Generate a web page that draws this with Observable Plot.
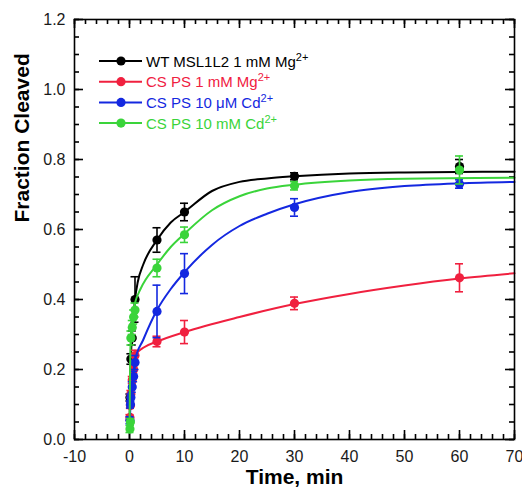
<!DOCTYPE html>
<html>
<head>
<meta charset="utf-8">
<script src="https://cdn.jsdelivr.net/npm/d3@7"></script>
<script src="https://cdn.jsdelivr.net/npm/@observablehq/plot@0.6"></script>
<style>
  html, body { margin: 0; padding: 0; background: white; }
</style>
</head>
<body>
<div id="chart"></div>
<script>
// ---- Data ----
const seriesNames = ["WT MSL1L2 1 mM Mg", "CS PS 1 mM Mg", "CS PS 10 \u03bcM Cd", "CS PS 10 mM Cd"];
const seriesSup = ["2+", "2+", "2+", "2+"];
const seriesColors = ["#000000", "#f0203f", "#1428e0", "#3ad43a"];

// measured points: time (min), fraction cleaved, error
const wtTime = [0.083, 0.25, 0.5, 1, 5, 10, 30, 60];
const wtFrac = [0.12, 0.23, 0.29, 0.40, 0.57, 0.65, 0.752, 0.78];
const wtErr  = [0.01, 0.015, 0.02, 0.065, 0.035, 0.025, 0.01, 0.02];

const csMgTime = [0.083, 0.167, 0.25, 0.5, 0.75, 1, 5, 10, 30, 60];
const csMgFrac = [0.063, 0.097, 0.13, 0.17, 0.20, 0.24, 0.28, 0.307, 0.389, 0.462];
const csMgErr  = [0.008, 0.008, 0.01, 0.01, 0.01, 0.015, 0.015, 0.033, 0.018, 0.04];

const cdLowTime = [0.083, 0.167, 0.25, 0.5, 0.75, 1, 5, 10, 30, 60];
const cdLowFrac = [0.055, 0.10, 0.12, 0.15, 0.18, 0.22, 0.366, 0.474, 0.663, 0.73];
const cdLowErr  = [0.01, 0.01, 0.01, 0.015, 0.015, 0.02, 0.075, 0.057, 0.025, 0.012];

const cdHighTime = [0.083, 0.167, 0.25, 0.5, 0.75, 1, 5, 10, 30, 60];
const cdHighFrac = [0.03, 0.05, 0.29, 0.32, 0.35, 0.37, 0.49, 0.585, 0.725, 0.77];
const cdHighErr  = [0.01, 0.01, 0.02, 0.02, 0.02, 0.02, 0.025, 0.022, 0.012, 0.04];

// fitted curves
const wtCurveT = [0, 0.1, 0.25, 0.5, 1, 1.5, 2.5, 5, 7.5, 10, 15, 20, 25, 30, 40, 50, 70];
const wtCurveY = [0.02, 0.14, 0.23, 0.31, 0.40, 0.45, 0.50, 0.57, 0.62, 0.65, 0.71, 0.736, 0.746, 0.752, 0.76, 0.763, 0.765];

const csMgCurveT = [0, 0.1, 0.25, 0.5, 1, 2.5, 5, 10, 20, 30, 40, 50, 60, 70];
const csMgCurveY = [0.02, 0.09, 0.14, 0.19, 0.24, 0.262, 0.28, 0.307, 0.35, 0.387, 0.416, 0.44, 0.46, 0.475];

const cdLowCurveT = [0, 0.1, 0.25, 0.5, 1, 2.5, 5, 7.5, 10, 15, 20, 25, 30, 40, 50, 60, 70];
const cdLowCurveY = [0.02, 0.07, 0.12, 0.16, 0.225, 0.285, 0.37, 0.43, 0.478, 0.556, 0.61, 0.645, 0.672, 0.707, 0.724, 0.732, 0.736];

const cdHighCurveT = [0, 0.1, 0.25, 0.5, 1, 2, 5, 7.5, 10, 15, 20, 25, 30, 40, 50, 70];
const cdHighCurveY = [0.02, 0.2, 0.3, 0.35, 0.39, 0.43, 0.50, 0.55, 0.588, 0.655, 0.695, 0.717, 0.728, 0.74, 0.745, 0.748];

// axis ticks
const xTicks = [-10, 0, 10, 20, 30, 40, 50, 60, 70];
const xMinor = d3.range(-10, 70.01, 2);
const yTicks = [0, 0.2, 0.4, 0.6, 0.8, 1.0, 1.2];
const yMinor = d3.range(0, 1.2001, 0.05);

// ---- Build tables ----
const pts = [
  [wtTime, wtFrac, wtErr],
  [csMgTime, csMgFrac, csMgErr],
  [cdLowTime, cdLowFrac, cdLowErr],
  [cdHighTime, cdHighFrac, cdHighErr]
];
const curves = [
  [wtCurveT, wtCurveY],
  [csMgCurveT, csMgCurveY],
  [cdLowCurveT, cdLowCurveY],
  [cdHighCurveT, cdHighCurveY]
];

const W = 522, H = 493;
const mL = 74, mR = 8, mT = 19, mB = 54;
const plotH = H - mT - mB;
const plotW = W - mL - mR;
const majorLen = 9, minorLen = 5;

const seriesMarks = [];
seriesNames.forEach((name, i) => {
  const color = seriesColors[i];
  const [ct, cy] = curves[i];
  const curve = ct.map((t, j) => ({t, y: cy[j]}));
  const [pt, py, pe] = pts[i];
  const data = pt.map((t, j) => ({t, y: py[j], e: pe[j]}));
  seriesMarks.push(
    Plot.line(curve, {x: "t", y: "y", stroke: color, strokeWidth: 2, curve: "monotone-x"}),
    Plot.ruleX(data, {x: "t", y1: d => d.y - d.e, y2: d => d.y + d.e, stroke: color, strokeWidth: 1.6}),
    Plot.ruleY(data, {y: d => d.y + d.e, x1: "t", x2: "t", insetLeft: -4, insetRight: -4, stroke: color, strokeWidth: 1.6}),
    Plot.ruleY(data, {y: d => d.y - d.e, x1: "t", x2: "t", insetLeft: -4, insetRight: -4, stroke: color, strokeWidth: 1.6}),
    Plot.dot(data, {x: "t", y: "y", r: 4.6, fill: color, stroke: "none"})
  );
});

const tk = {stroke: "black", strokeWidth: 1.6};
const chart = Plot.plot({
  width: W,
  height: H,
  marginLeft: mL,
  marginRight: mR,
  marginTop: mT,
  marginBottom: mB,
  x: {domain: [-10, 70]},
  y: {domain: [0, 1.2]},
  style: {fontFamily: "'Liberation Sans', Arial, sans-serif", fontSize: "16px", color: "#1a1a1a"},
  marks: [
    // inward ticks on all four sides
    Plot.ruleX(xMinor, {x: d => d, insetTop: plotH - minorLen, ...tk}),
    Plot.ruleX(xTicks, {x: d => d, insetTop: plotH - majorLen, ...tk}),
    Plot.ruleX(xMinor, {x: d => d, insetBottom: plotH - minorLen, ...tk}),
    Plot.ruleX(xTicks, {x: d => d, insetBottom: plotH - majorLen, ...tk}),
    Plot.ruleY(yMinor, {y: d => d, insetRight: plotW - minorLen, ...tk}),
    Plot.ruleY(yTicks, {y: d => d, insetRight: plotW - majorLen, ...tk}),
    Plot.ruleY(yMinor, {y: d => d, insetLeft: plotW - minorLen, ...tk}),
    Plot.ruleY(yTicks, {y: d => d, insetLeft: plotW - majorLen, ...tk}),
    // tick labels
    Plot.axisX({anchor: "bottom", ticks: xTicks, tickSize: 0, tickPadding: 11, tickFormat: d => String(d), label: null}),
    Plot.axisY({anchor: "left", ticks: yTicks, tickSize: 0, tickPadding: 9, tickFormat: d3.format(".1f"), label: null}),
    ...seriesMarks,
    Plot.frame({stroke: "black", strokeWidth: 1.6}),
    Plot.text(["Time, min"], {frameAnchor: "bottom", dy: 44, text: d => d, fontSize: 21, fontWeight: "bold", fill: "black"}),
    Plot.text(["Fraction Cleaved"], {frameAnchor: "left", dx: -52, dy: -7, rotate: -90, text: d => d, fontSize: 21, fontWeight: "bold", fill: "black"})
  ]
});

// ---- Legend inside the plot (top-left) ----
const svg = d3.select(chart);
const lg = svg.append("g")
  .attr("font-family", "'Liberation Sans', Arial, sans-serif")
  .attr("text-anchor", "start");
const rowY0 = 61, rowStep = 20.7;
seriesNames.forEach((name, i) => {
  const cy = rowY0 + i * rowStep;
  const color = seriesColors[i];
  lg.append("line").attr("x1", 99).attr("x2", 142).attr("y1", cy).attr("y2", cy)
    .attr("stroke", color).attr("stroke-width", 2);
  lg.append("circle").attr("cx", 121).attr("cy", cy).attr("r", 4.6).attr("fill", color);
  const t = lg.append("text").attr("x", 146).attr("y", cy + 5.5)
    .attr("font-size", 15).attr("fill", color).attr("text-anchor", "start");
  t.append("tspan").text(name);
  t.append("tspan").attr("dy", -6).attr("font-size", 11).text(seriesSup[i]);
});

document.getElementById("chart").appendChild(chart);
</script>
</body>
</html>
